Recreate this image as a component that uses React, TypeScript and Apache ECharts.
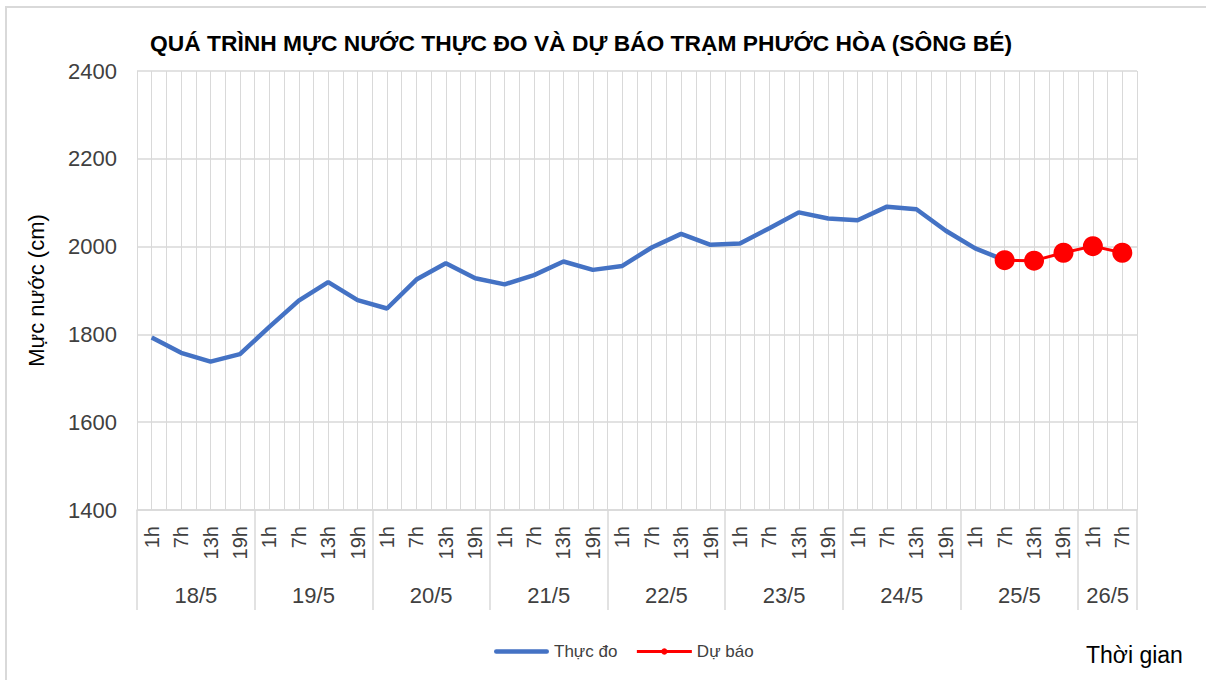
import React, { useEffect, useRef } from "react";
import * as echarts from "echarts";

const days = ["18/5", "19/5", "20/5", "21/5", "22/5", "23/5", "24/5", "25/5", "26/5"];
const hoursPerDay = [4, 4, 4, 4, 4, 4, 4, 4, 2];
const hourNames = ["1h", "7h", "13h", "19h"];
const yTicks = { min: 1400, max: 2400, step: 200 };

const observed = [
  1793, 1758, 1738, 1755,
  1817, 1877, 1919, 1878,
  1859, 1925, 1962, 1928,
  1914, 1935, 1966, 1947,
  1956, 1998, 2029, 2004,
  2007, 2042, 2078, 2064,
  2060, 2091, 2085, 2036,
  1996, 1969,
];
const forecastStart = 29;
const forecast = [1969, 1968, 1986, 2001, 1986];

const TITLE = "QUÁ TRÌNH MỰC NƯỚC THỰC ĐO VÀ DỰ BÁO TRẠM PHƯỚC HÒA (SÔNG BÉ)";
const FONT = "'Liberation Sans', Arial, sans-serif";
const GRID = "#d9d9d9";
const TXT = "#404040";

export default function App() {
  const ref = useRef<HTMLDivElement>(null);

  useEffect(() => {
    if (!ref.current) return;
    const chart = echarts.init(ref.current, null, { renderer: "svg" });

    const hourCats: string[] = [];
    days.forEach((_, d) => {
      for (let h = 0; h < hoursPerDay[d]; h++) hourCats.push(hourNames[h]);
    });
    const n = hourCats.length;

    const half: string[] = new Array(2 * n + 1).fill("");
    const boundaries = new Set<number>();
    let start = 0;
    days.forEach((day, d) => {
      boundaries.add(2 * start);
      half[2 * start + hoursPerDay[d]] = day;
      start += hoursPerDay[d];
    });
    boundaries.add(2 * n);

    const obsData = hourCats.map((_, i) => (i < observed.length ? observed[i] : null));
    const fcData = hourCats.map((_, i) =>
      i >= forecastStart && i - forecastStart < forecast.length ? forecast[i - forecastStart] : null
    );

    chart.setOption({
      animation: false,
      textStyle: { fontFamily: FONT },
      title: {
        text: TITLE,
        left: 145,
        top: 26,
        textStyle: { fontFamily: FONT, fontSize: 22.8, fontWeight: "bold", color: "#000" },
      },
      grid: { left: 137, right: 69, top: 71, bottom: 170, containLabel: false },
      legend: {
        left: 489,
        top: 638,
        itemWidth: 55,
        itemHeight: 8,
        itemGap: 18,
        textStyle: { fontFamily: FONT, fontSize: 17, color: TXT },
        data: [
          {
            name: "Thực đo",
            icon: "path://M2,0H53A2,2 0 0 1 53,4.5H2A2,2 0 0 1 2,0Z",
          },
          { name: "Dự báo", lineStyle: { width: 3 } },
        ],
      },
      xAxis: [
        {
          type: "category",
          data: hourCats,
          boundaryGap: true,
          axisLine: { show: true, lineStyle: { color: GRID, width: 1.5 } },
          axisTick: { show: false },
          splitLine: { show: false },
          axisLabel: {
            interval: 0,
            rotate: 90,
            margin: 16,
            fontFamily: FONT,
            fontSize: 20,
            color: TXT,
          },
        },
        {
          type: "category",
          data: half,
          boundaryGap: false,
          position: "bottom",
          axisLine: { show: false },
          axisTick: {
            show: true,
            interval: (i: number) => boundaries.has(i),
            length: 100,
            lineStyle: { color: GRID, width: 1.5 },
          },
          splitLine: { show: true, interval: 0, lineStyle: { color: GRID, width: 1 } },
          axisLabel: {
            interval: (i: number, v: string) => v !== "",
            margin: 74,
            fontFamily: FONT,
            fontSize: 22,
            color: TXT,
          },
        },
      ],
      yAxis: {
        type: "value",
        min: yTicks.min,
        max: yTicks.max,
        interval: yTicks.step,
        name: "Mực nước (cm)",
        nameLocation: "middle",
        nameGap: 90,
        nameTextStyle: { fontFamily: FONT, fontSize: 22, color: "#000" },
        axisLine: { show: false },
        axisTick: { show: false },
        axisLabel: {
          margin: 20,
          fontFamily: FONT,
          fontSize: 22,
          color: TXT,
          formatter: (v: number) => String(v),
        },
        splitLine: { show: true, lineStyle: { color: GRID, width: 1.5 } },
      },
      graphic: [
        {
          type: "rect",
          shape: { x: 6, y: 7, width: 1400, height: 900 },
          style: { fill: "none", stroke: GRID, lineWidth: 2 },
          silent: true,
        },
        {
          type: "text",
          x: 1086,
          y: 655,
          style: {
            text: "Thời gian",
            fontFamily: FONT,
            fontSize: 23,
            fill: "#000",
            textVerticalAlign: "middle",
          },
        },
      ],
      series: [
        {
          name: "Thực đo",
          type: "line",
          xAxisIndex: 0,
          data: obsData,
          symbol: "none",
          showSymbol: false,
          lineStyle: { color: "#4472C4", width: 4.5 },
          itemStyle: { color: "#4472C4" },
          z: 2,
        },
        {
          name: "Dự báo",
          type: "line",
          xAxisIndex: 0,
          data: fcData,
          symbol: "circle",
          symbolSize: 20,
          lineStyle: { color: "#FF0000", width: 3 },
          itemStyle: { color: "#FF0000" },
          z: 3,
        },
      ],
    });

    return () => chart.dispose();
  }, []);

  return (
    <div
      ref={ref}
      style={{ position: "absolute", left: 0, top: 0, width: 1206, height: 680, background: "#fff" }}
    />
  );
}
